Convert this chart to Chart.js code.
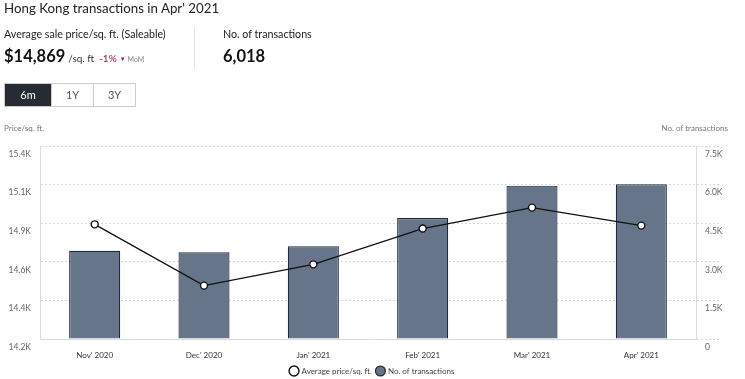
<!DOCTYPE html>
<html>
<head>
<meta charset="utf-8">
<script src="https://cdn.jsdelivr.net/npm/chart.js@4.4.1/dist/chart.umd.min.js"></script>
<style>
  html, body { margin:0; padding:0; background:#fff; }
  body { width:745px; height:379px; position:relative; overflow:hidden; font-family: Lato, "Open Sans", sans-serif; color:#222; }
  .abs { position:absolute; white-space:nowrap; z-index:2; }
  #title { left:4px; top:0px; font-size:13.3px; color:#222; }
  .lbl { font-size:10.7px; color:#222; }
  .big { font-size:16.5px; font-weight:bold; color:#111; }
  #divider { left:194px; top:27px; width:1px; height:42px; background:#e3e3e3; }
  #btns { left:4px; top:83px; height:24px; display:flex; border:1px solid #ccc; box-sizing:border-box; }
  #btns div { height:22px; line-height:22px; text-align:center; font-size:11px; color:#555; border-left:1px solid #ccc; }
  #btns div.on { background:#272c34; color:#fff; border-left:none; }
  .axt { font-size:8px; color:#777; }
  #wrap { position:absolute; left:0; top:0; width:745px; height:379px; z-index:1; }
</style>
</head>
<body>
<div class="abs" id="title">Hong Kong transactions in Apr' 2021</div>
<div class="abs lbl" style="left:4px;top:27px;">Average sale price/sq. ft. (Saleable)</div>
<div class="abs" style="left:4px;top:46px;">
  <span class="big">$14,869</span><span style="font-size:10px;color:#333;margin-left:3px;">/sq. ft</span><span style="font-size:10px;color:#a3222d;margin-left:5px;">-1%</span><span style="font-size:6px;color:#a3222d;margin-left:3px;position:relative;top:-1px;">&#9660;</span><span style="font-size:7px;color:#888;margin-left:2px;">MoM</span>
</div>
<div class="abs" id="divider"></div>
<div class="abs lbl" style="left:223px;top:27px;">No. of transactions</div>
<div class="abs big" style="left:223px;top:46px;">6,018</div>
<div class="abs" id="btns">
  <div class="on" style="width:46px;">6m</div>
  <div style="width:41px;">1Y</div>
  <div style="width:41px;">3Y</div>
</div>
<div class="abs axt" style="left:4px;top:123px;">Price/sq. ft.</div>
<div class="abs axt" style="right:17px;top:123px;">No. of transactions</div>
<div id="wrap"><canvas id="c" width="745" height="379"></canvas></div>
<script>
const categories = ["Nov' 2020", "Dec' 2020", "Jan' 2021", "Feb' 2021", "Mar' 2021", "Apr' 2021"];
const avgPrice = [14913, 14532, 14664, 14887, 15017, 14905];
const transactions = [3430, 3370, 3600, 4700, 5960, 6018];
const priceAxis = { min: 14200, max: 15400, step: 240 };
const countAxis = { min: 0, max: 7500, step: 1500 };
const seriesNames = ["Average price/sq. ft.", "No. of transactions"];

const FONT = "Lato, 'Open Sans', sans-serif";
Chart.defaults.font.family = FONT;

new Chart(document.getElementById('c'), {
  data: {
    labels: categories,
    datasets: [
      {
        type: 'line', label: seriesNames[0], data: avgPrice, yAxisID: 'yPrice', order: 0,
        borderColor: '#111', borderWidth: 1.3, backgroundColor: '#fff',
        pointRadius: 3.5, pointBorderWidth: 1.4, pointBackgroundColor: '#fff', pointBorderColor: '#111',
        tension: 0
      },
      {
        type: 'bar', label: seriesNames[1], data: transactions, yAxisID: 'yCount', order: 1,
        backgroundColor: '#66758a', borderColor: '#1e2b3a', borderWidth: 1.2,
        categoryPercentage: 1.0, barPercentage: 0.467
      }
    ]
  },
  options: {
    responsive: false, animation: false, devicePixelRatio: 1,
    layout: { padding: { top: 146, left: 0, right: 0, bottom: -6 } },
    plugins: {
      tooltip: { enabled: false },
      legend: {
        position: 'bottom',
        labels: {
          usePointStyle: true, pointStyle: 'circle', boxWidth: 7, boxHeight: 7,
          padding: 5, color: '#444', font: { size: 8, family: FONT }
        }
      }
    },
    scales: {
      x: {
        afterFit: s => { s.height = 23; },
        grid: { display: false },
        border: { display: true, color: '#dcdcdc', width: 1 },
        ticks: { color: '#333', font: { size: 8, family: FONT }, padding: 4, maxRotation: 0 }
      },
      yPrice: {
        position: 'left', min: priceAxis.min, max: priceAxis.max,
        afterFit: s => { s.width = 40; },
        grid: { drawTicks: false, color: '#d8d8d8', lineWidth: 1 },
        border: { display: true, color: '#dcdcdc', dash: [2, 2], width: 1 },
        ticks: {
          stepSize: priceAxis.step, padding: 9, labelOffset: 8, color: '#666',
          font: { size: 8.5, family: FONT },
          callback: v => (Math.floor(v / 100 + 1e-6) / 10).toFixed(1) + 'K'
        }
      },
      yCount: {
        position: 'right', min: countAxis.min, max: countAxis.max,
        afterFit: s => { s.width = 49; },
        grid: { drawOnChartArea: false, drawTicks: true, tickLength: 24, tickColor: '#d8d8d8', tickBorderDash: [2, 2] },
        border: { display: true, color: '#dcdcdc', dash: [2, 2], width: 1 },
        ticks: {
          stepSize: countAxis.step, padding: -15, labelOffset: 8, color: '#666',
          font: { size: 8.5, family: FONT },
          callback: v => v === 0 ? '0' : (v / 1000).toFixed(1) + 'K'
        }
      }
    }
  }
});
</script>
</body>
</html>
